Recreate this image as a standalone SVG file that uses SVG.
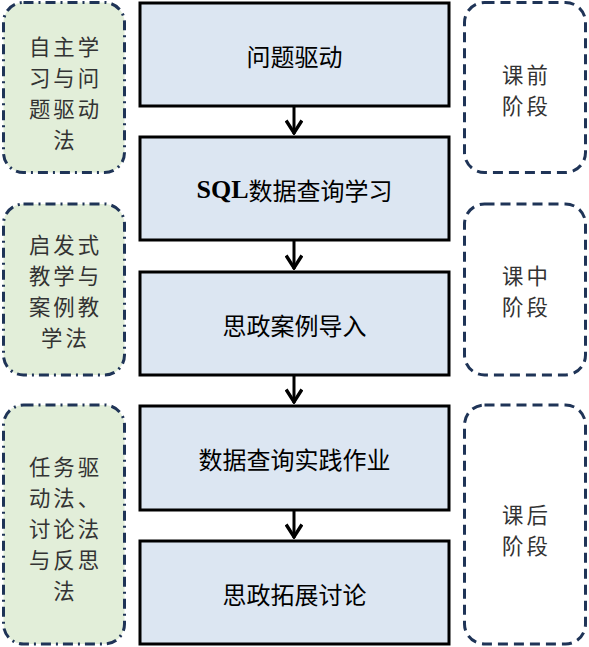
<svg xmlns="http://www.w3.org/2000/svg" width="589" height="647" viewBox="0 0 589 647">
<style>
.main{fill:#dce6f2;stroke:#000;stroke-width:3}
.left{fill:#e2eed9;stroke:#1f3457;stroke-width:3;stroke-dasharray:10 5 2 5}
.right{fill:#fff;stroke:#1f3457;stroke-width:3;stroke-dasharray:10 6}
.t{font-family:"Noto Sans CJK SC","Liberation Sans",sans-serif;font-size:24px;text-anchor:middle;dominant-baseline:central}
.s{font-size:21.4px;letter-spacing:3px;fill:#333}
.c{fill:#000}
.conn{stroke:#000;stroke-width:3;fill:none}
</style>
<defs>
<marker id="ah" markerWidth="18" markerHeight="18" refX="15" refY="8" orient="auto" markerUnits="userSpaceOnUse" viewBox="0 0 16 16">
<polyline points="3,1 14,8 3,15" fill="none" stroke="#000" stroke-width="3"/>
</marker>
</defs>
<g id="left1"><rect class="left" x="3.5" y="2.5" width="121" height="170" rx="20"/>
<text class="t s" x="65.5" y="45">自主学</text><text class="t s" x="65.5" y="76">习与问</text><text class="t s" x="65.5" y="107">题驱动</text><text class="t s" x="65.5" y="138">法</text></g>
<g id="left2"><rect class="left" x="3.5" y="204" width="121" height="171" rx="20"/>
<text class="t s" x="65.5" y="243">启发式</text><text class="t s" x="65.5" y="274">教学与</text><text class="t s" x="65.5" y="305">案例教</text><text class="t s" x="65.5" y="336">学法</text></g>
<g id="left3"><rect class="left" x="3.5" y="405" width="121" height="239" rx="20"/>
<text class="t s" x="65.5" y="465">任务驱</text><text class="t s" x="65.5" y="496">动法、</text><text class="t s" x="65.5" y="527">讨论法</text><text class="t s" x="65.5" y="558">与反思</text><text class="t s" x="65.5" y="589">法</text></g>
<g id="right1"><rect class="right" x="464.5" y="2.5" width="121" height="170" rx="20"/>
<text class="t s" x="526.5" y="73">课前</text><text class="t s" x="526.5" y="104">阶段</text></g>
<g id="right2"><rect class="right" x="464.5" y="204" width="121" height="171" rx="20"/>
<text class="t s" x="526.5" y="274">课中</text><text class="t s" x="526.5" y="305">阶段</text></g>
<g id="right3"><rect class="right" x="464.5" y="405" width="121" height="239" rx="20"/>
<text class="t s" x="526.5" y="513">课后</text><text class="t s" x="526.5" y="544">阶段</text></g>
<g id="n1"><rect class="main" x="140" y="3" width="309" height="103"/><text class="t c" x="294.5" y="55">问题驱动</text></g>
<g id="n2"><rect class="main" x="140" y="137" width="309" height="103"/><text class="t c" x="294.5" y="189"><tspan font-family="Liberation Serif" font-weight="bold" font-size="26">SQL</tspan>数据查询学习</text></g>
<g id="n3"><rect class="main" x="140" y="272" width="309" height="103"/><text class="t c" x="294.5" y="324">思政案例导入</text></g>
<g id="n4"><rect class="main" x="140" y="406" width="309" height="104"/><text class="t c" x="294.5" y="458">数据查询实践作业</text></g>
<g id="n5"><rect class="main" x="140" y="541" width="309" height="103"/><text class="t c" x="294.5" y="593">思政拓展讨论</text></g>
<g id="connectors">
<line class="conn" x1="294" y1="106" x2="294" y2="134" marker-end="url(#ah)"/>
<line class="conn" x1="294" y1="240" x2="294" y2="269" marker-end="url(#ah)"/>
<line class="conn" x1="294" y1="375" x2="294" y2="403" marker-end="url(#ah)"/>
<line class="conn" x1="294" y1="510" x2="294" y2="538" marker-end="url(#ah)"/>
</g>
</svg>
